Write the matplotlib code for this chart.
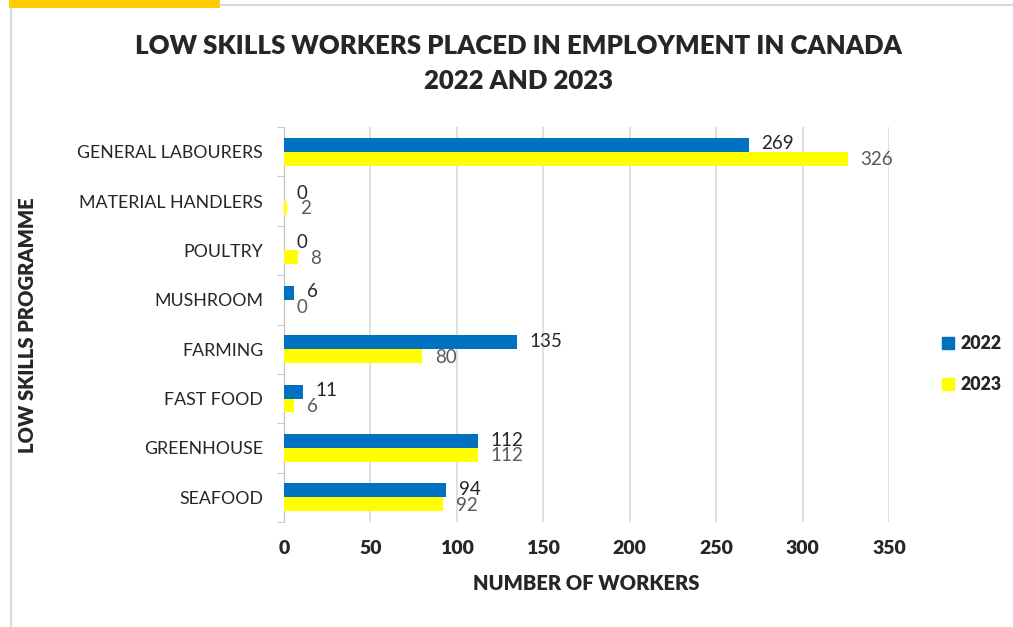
import matplotlib
matplotlib.use("Agg")
import matplotlib.pyplot as plt
from matplotlib.patches import Patch, Rectangle
from matplotlib.lines import Line2D

plt.rcParams["font.family"] = ["Lato", "DejaVu Sans"]

# data (top to bottom as drawn)
programmes = ["GENERAL LABOURERS", "MATERIAL HANDLERS", "POULTRY", "MUSHROOM",
              "FARMING", "FAST FOOD", "GREENHOUSE", "SEAFOOD"]
workers_2022 = [269, 0, 0, 6, 135, 11, 112, 94]
workers_2023 = [326, 2, 8, 0, 80, 6, 112, 92]
years = ["2022", "2023"]
x_ticks = [0, 50, 100, 150, 200, 250, 300, 350]

BLUE = "#0070C0"
YELLOW = "#FFFF00"
W, H = 1013, 627

fig = plt.figure(figsize=(W / 100, H / 100), dpi=100)

# outer frame + yellow tab at top left
fig.add_artist(Line2D([11 / W, 11 / W], [0, 1 - 8 / H], transform=fig.transFigure,
                      color="#D9D9D9", lw=1.5))
fig.add_artist(Line2D([220 / W, 1], [1 - 5 / H, 1 - 5 / H], transform=fig.transFigure,
                      color="#D9D9D9", lw=1.5))
fig.add_artist(Rectangle((9 / W, 1 - 8 / H), 211 / W, 8 / H, transform=fig.transFigure,
                         color="#FFCC00", lw=0))

ax = fig.add_axes([284 / W, 1 - 522 / H, 605 / W, 395 / H])

pos = list(range(len(programmes)))
h = 0.28
ax.barh([p - h / 2 for p in pos], workers_2022, height=h, color=BLUE, zorder=3)
ax.barh([p + h / 2 for p in pos], workers_2023, height=h, color=YELLOW, zorder=3)

for p, v in zip(pos, workers_2022):
    ax.annotate(str(v), (v, p - h / 2 - 0.02), xytext=(9, 0), textcoords="offset points",
                va="center", ha="left", fontsize=13.5, color="#262626")
for p, v in zip(pos, workers_2023):
    ax.annotate(str(v), (v, p + h / 2 + 0.02), xytext=(9, 0), textcoords="offset points",
                va="center", ha="left", fontsize=13.5, color="#595959")

ax.set_xlim(0, 350)
ax.set_ylim(len(programmes) - 0.5, -0.5)
ax.set_xticks(x_ticks)
ax.set_xticklabels([str(t) for t in x_ticks], fontsize=14, fontweight="heavy", color="#262626")
ax.set_yticks(pos)
ax.set_yticklabels(programmes, fontsize=12.8, color="#262626")
ax.set_yticks([p + 0.5 for p in range(-1, len(programmes))], minor=True)
ax.tick_params(axis="y", which="major", length=0, pad=15)
ax.tick_params(axis="y", which="minor", length=5, color="#BFBFBF")
ax.tick_params(axis="x", length=0, pad=13)

ax.grid(axis="x", color="#D9D9D9", lw=1.2, zorder=0)
for s in ["top", "right", "bottom"]:
    ax.spines[s].set_visible(False)
ax.spines["left"].set_color("#BFBFBF")

ax.set_xlabel("NUMBER OF WORKERS", fontsize=14.5, fontweight="heavy", color="#262626", labelpad=12)
fig.text(28 / W, 1 - 325 / H, "LOW SKILLS PROGRAMME", rotation=90, ha="center", va="center",
         fontsize=14.5, fontweight="heavy", color="#262626")

fig.text(518 / W, 1 - 46 / H, "LOW SKILLS WORKERS PLACED IN EMPLOYMENT IN CANADA",
         ha="center", va="center", fontsize=18.5, fontweight="heavy", color="#262626")
fig.text(518 / W, 1 - 81 / H, "2022 AND 2023",
         ha="center", va="center", fontsize=18.5, fontweight="heavy", color="#262626")

handles = [Patch(color=BLUE), Patch(color=YELLOW)]
fig.legend(handles, years, loc="center left", bbox_to_anchor=(926 / W, 1 - 364 / H),
           frameon=False, handlelength=0.65, handleheight=0.65, handletextpad=0.4,
           labelspacing=1.35, prop={"size": 12.8, "weight": "heavy"}, labelcolor="#262626")

fig.savefig("out.png", dpi=100)
